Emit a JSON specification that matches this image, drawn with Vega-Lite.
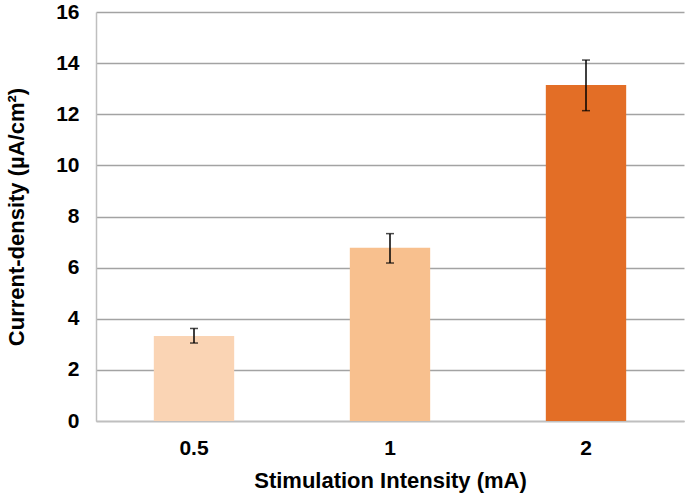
{
  "$schema": "https://vega.github.io/schema/vega-lite/v6.json",
  "width": 588,
  "height": 409,
  "autosize": {"type": "none"},
  "padding": {"left": 96, "top": 12, "right": 1, "bottom": 75},
  "background": "white",
  "config": {
    "view": {"stroke": null},
    "font": "Liberation Sans"
  },
  "data": {
    "values": [
      {"intensity": "0.5", "density": 3.33, "low": 3.05, "high": 3.62},
      {"intensity": "1", "density": 6.78, "low": 6.18, "high": 7.33},
      {"intensity": "2", "density": 13.14, "low": 12.14, "high": 14.12}
    ]
  },
  "encoding": {
    "x": {
      "field": "intensity",
      "type": "nominal",
      "sort": null,
      "scale": {"paddingInner": 0.59, "paddingOuter": 0.295},
      "axis": {
        "title": "Stimulation Intensity (mA)",
        "labelAngle": 0,
        "labelFont": "Liberation Sans",
        "labelFontSize": 21,
        "labelFontWeight": "bold",
        "labelColor": "black",
        "labelPadding": 16,
        "ticks": false,
        "domainColor": "#BFBFBF",
        "domainWidth": 1.5,
        "titleFont": "Liberation Sans",
        "titleFontSize": 22,
        "titleFontWeight": "bold",
        "titleColor": "black",
        "titlePadding": 12
      }
    }
  },
  "layer": [
    {
      "mark": {"type": "bar"},
      "encoding": {
        "y": {
          "field": "density",
          "type": "quantitative",
          "scale": {"domain": [0, 16], "nice": false},
          "axis": {
            "title": "Current-density (µA/cm²)",
            "values": [0, 2, 4, 6, 8, 10, 12, 14, 16],
            "grid": true,
            "gridColor": "#A3A3A3",
            "gridWidth": 1.5,
            "ticks": false,
            "domainColor": "#BFBFBF",
            "domainWidth": 1.5,
            "labelFont": "Liberation Sans",
            "labelFontSize": 21,
            "labelFontWeight": "bold",
            "labelColor": "black",
            "labelPadding": 17,
            "titleFont": "Liberation Sans",
            "titleFontSize": 22,
            "titleFontWeight": "bold",
            "titleColor": "black",
            "titlePadding": 27
          }
        },
        "color": {
          "field": "intensity",
          "type": "nominal",
          "sort": null,
          "scale": {"range": ["#FAD4B4", "#F8C08E", "#E36E26"]},
          "legend": null
        }
      }
    },
    {
      "mark": {"type": "rule", "color": "black", "strokeWidth": 1.5},
      "encoding": {
        "y": {"field": "low", "type": "quantitative"},
        "y2": {"field": "high"}
      }
    },
    {
      "mark": {"type": "tick", "color": "black", "size": 8, "thickness": 1.5, "orient": "horizontal"},
      "encoding": {
        "y": {"field": "low", "type": "quantitative"}
      }
    },
    {
      "mark": {"type": "tick", "color": "black", "size": 8, "thickness": 1.5, "orient": "horizontal"},
      "encoding": {
        "y": {"field": "high", "type": "quantitative"}
      }
    }
  ]
}
